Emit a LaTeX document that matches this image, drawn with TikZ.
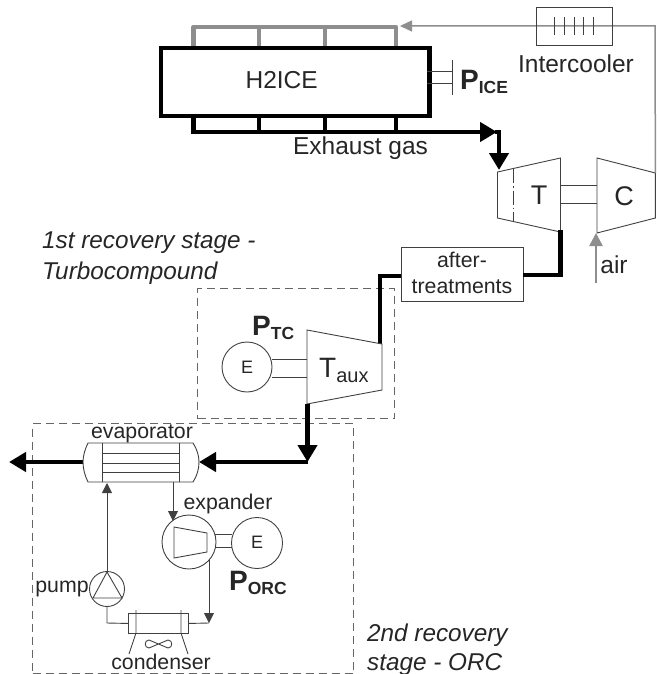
\documentclass[tikz,border=0pt]{standalone}
\usepackage{fontspec}
\setmainfont{Liberation Sans}
\usetikzlibrary{arrows.meta}
\definecolor{ink}{HTML}{262626}
\definecolor{wire}{HTML}{404040}
\definecolor{pipegrey}{HTML}{8E8E8E}
\definecolor{dashgrey}{HTML}{666666}
\newcommand{\sz}[1]{\fontsize{#1}{#1}\selectfont}
\newcommand{\powerlabel}[1]{{\bfseries\sz{28}P\raisebox{-4pt}{\sz{17.5}#1}}}
\tikzset{
  x=1pt,y=-1pt,
  thinline/.style={draw=wire,line width=0.9pt},
  hotpipe/.style={draw=black,line width=4.5pt,line join=miter},
  coldpipe/.style={draw=pipegrey,line width=4.5pt,line join=round},
  airline/.style={draw=pipegrey,line width=1.5pt},
  stagebox/.style={draw=dashgrey,line width=1.1pt,dash pattern=on 8pt off 5pt},
  label/.style={inner sep=0pt,anchor=base,text=ink,font=\sz{24.5}},
  small/.style={label,font=\sz{21.3}},
  stagetext/.style={inner sep=0pt,anchor=base west,text=ink,font=\sz{24.3}\itshape},
  hothead/.style={-{Triangle[length=17pt,width=19pt]}},
  finehead/.style={-{Triangle[length=10pt,width=10pt]}},
  unit/.style={circle,draw=wire,line width=0.9pt,inner sep=0pt},
}
\begin{document}
\begin{tikzpicture}
\useasboundingbox (0,0) rectangle (656,674);
% stage boxes
\node[stagebox,minimum width=197pt,minimum height=130pt,inner sep=0pt,anchor=north west] (stageA) at (197,288) {};
\node[stagebox,minimum width=321pt,minimum height=250pt,inner sep=0pt,anchor=north west] (stageB) at (32,423) {};
% engine
\foreach \n/\x in {1/193.5,2/259,3/325,4/396}{
  \coordinate (ct\n) at (\x,27);
  \coordinate (cb\n) at (\x,46);
  \coordinate (et\n) at (\x,114);
  \coordinate (eb\n) at (\x,132);
}
\draw[coldpipe] (cb1) -- (ct1) -- (ct4) -- (cb4);
\draw[coldpipe] (ct2) -- (cb2);
\draw[coldpipe] (ct3) -- (cb3);
\node[draw=black,line width=4.5pt,minimum width=268.5pt,minimum height=68pt,inner sep=0pt,anchor=north west] (engine) at (158.5,46) {};
\node[label] (h2ice) at (281.7,89) {H2ICE};
\coordinate (bend) at (499,132);
\coordinate (tin) at (499,170);
\draw[hotpipe] (et1) -- (eb1) -- (eb4);
\draw[hotpipe] (et2) -- (eb2);
\draw[hotpipe] (et3) -- (eb3);
\draw[hotpipe] (et4) -- (eb4);
\draw[hotpipe,hothead] (eb4) -- (497,132);
\draw[hotpipe,hothead] (495,132) -- (bend) -- (tin);
\node[label] (exh) at (360.5,154) {Exhaust gas};
% engine shaft
\coordinate (sa) at (427,71);\coordinate (sb) at (452,71);
\coordinate (sc) at (427,83);\coordinate (sd) at (452,83);
\coordinate (se) at (452,60);\coordinate (sf) at (452,95);
\draw[thinline] (sa) -- (sb) (sc) -- (sd) (se) -- (sf);
\node[inner sep=0pt,anchor=base west,text=ink] (pice) at (460,90) {\powerlabel{ICE}};
% turbocharger
\coordinate (t1) at (497.5,172);\coordinate (t2) at (560.5,158);
\coordinate (t3) at (560.5,232);\coordinate (t4) at (497.5,218);
\coordinate (c1) at (597,158);\coordinate (c2) at (655.4,173);
\coordinate (c3) at (655.4,218);\coordinate (c4) at (597,233);
\draw[thinline] (t1) -- (t2) -- (t3) -- (t4) -- cycle;
\draw[thinline] (c1) -- (c2) -- (c3) -- (c4) -- cycle;
\draw[thinline,dash pattern=on 14pt off 3pt on 1.5pt off 3pt] (513.5,169) -- (513.5,222);
\draw[thinline] (t2 |- 0,185) -- (c1 |- 0,185) (t2 |- 0,203) -- (c1 |- 0,203);
\node[label,font=\sz{27}] (tlab) at (539,204) {T};
\node[label,font=\sz{27}] (clab) at (624,205) {C};
% charge air
\coordinate (airtop) at (655,26);
\coordinate (coldin) at (400,26);
\draw[airline,-{Triangle[length=12pt,width=11pt]}] (c2) -- (airtop) -- (coldin);
\node[draw=wire,line width=0.9pt,minimum width=76pt,minimum height=38pt,inner sep=0pt,anchor=north west] (ic) at (536,7) {};
\foreach \x in {554.5,564.5,574,583.5,593}{\draw[thinline] (\x,17) -- (\x,35);}
\node[label] (iclab) at (576,73) {Intercooler};
\coordinate (airin) at (596,283);
\coordinate (airtip) at (596,233);
\draw[pipegrey,line width=2.5pt,-{Triangle[length=13pt,width=13pt]}] (airin) -- (airtip);
\node[label] (airlab) at (614,273) {air};
% after-treatments
\node[draw=wire,line width=0.9pt,minimum width=122pt,minimum height=54pt,inner sep=0pt,anchor=north west] (after) at (401,247) {};
\node[small] (aft1) at (462,267) {after-};
\node[small] (aft2) at (462,293) {treatments};
\coordinate (tout) at (560.5,230);
\coordinate (aftR) at (523,275);
\coordinate (aftL) at (401,276);
\coordinate (auxin) at (380,344);
\draw[hotpipe] (tout) -- (560.5,275) -- (aftR);
\draw[hotpipe] (aftL) -- (380,276) -- (auxin);
% aux turbine
\coordinate (a1) at (307,330);\coordinate (a2) at (382,344);
\coordinate (a3) at (382,390);\coordinate (a4) at (307,404);
\draw[thinline] (a1) -- (a2) -- (a3) -- (a4) -- cycle;
\node[unit,minimum size=50pt] (gen1) at (247,367) {};
\draw[thinline] (272,359) -- (307,359) (272,377) -- (307,377);
\node[label,font=\sz{18}] (gen1t) at (247,373) {E};
\node[inner sep=0pt,anchor=base west,text=ink] (taux) at (319,377) {\sz{28}T\raisebox{-5pt}{\sz{20}aux}};
\node[inner sep=0pt,anchor=base west,text=ink] (ptc) at (252,335) {\powerlabel{TC}};
% exhaust to evaporator
\coordinate (corner) at (308,462);
\coordinate (evapR) at (199,462);
\coordinate (evapL) at (83,462);
\coordinate (outlet) at (9,462);
\draw[hotpipe,hothead] (307.5,404) -- (307.5,462);
\draw[hotpipe,hothead] (corner) -- (evapR);
\draw[hotpipe,hothead] (evapL) -- (outlet);
% evaporator
\draw[thinline] (88,443) -- (193,443) .. controls (197,449) and (199,456) .. (199,462) .. controls (199,469) and (197,476) .. (193,482) -- (88,482) .. controls (85,476) and (83,469) .. (83,462) .. controls (83,456) and (85,449) .. (88,443) -- cycle;
\draw[thinline] (102,443) -- (102,482) (179,443) -- (179,482);
\draw[thinline] (102,453) -- (179,453) (102,463) -- (179,463) (102,472) -- (179,472);
\node[small] (evlab) at (142,438) {evaporator};
% expander
\node[unit,minimum size=54pt] (exp) at (189,542) {};
\node[unit,minimum size=51pt] (gen2) at (257,543) {};
\draw[thinline] (174,527) -- (207,533) -- (207,552) -- (174,558) -- cycle;
\draw[thinline] (215,534) -- (232,534) (215,547) -- (232,547);
\node[label,font=\sz{18}] (gen2t) at (257,548) {E};
\node[small] (explab) at (228,509) {expander};
\node[inner sep=0pt,anchor=base west,text=ink] (porc) at (229,590) {\powerlabel{ORC}};
% ORC loop
\coordinate (evout) at (173,482);
\coordinate (expin) at (173,521);
\coordinate (expout) at (209,560);
\coordinate (loop) at (209,623);
\coordinate (pumpb) at (107,623);
\draw[thinline,finehead] (evout) -- (expin);
\draw[thinline,finehead] (expout) -- (loop);
\node[draw=wire,line width=0.9pt,minimum width=60pt,minimum height=20pt,inner sep=0pt,anchor=north west] (cond) at (128,613) {};
\draw[thinline] (loop) -- (cond.east);
\node[unit,minimum size=35pt] (pump) at (107,589) {};
\draw[thinline] (cond.west) -- (pumpb) -- (pump.south);
\draw[thinline] (107,572) -- (122,598) -- (93,598) -- cycle;
\draw[thinline,finehead] (pump.north) -- (107,483);
\node[small] (pumplab) at (62,592) {pump};
% condenser details
\draw[thinline] (136,610) -- (136,633) -- (129,654);
\draw[thinline] (181,610) -- (181,633) -- (188,654);
\draw[thinline] (158.5,644) -- (149,640) .. controls (144,640) and (144,648) .. (149,648) -- (158.5,644) -- (168,640) .. controls (173,640) and (173,648) .. (168,648) -- cycle;
\node[small] (condlab) at (161,669) {condenser};
% stage captions
\node[stagetext] (s1a) at (42,248) {1st recovery stage -};
\node[stagetext] (s1b) at (42,279) {Turbocompound};
\node[stagetext] (s2a) at (367,641) {2nd recovery};
\node[stagetext] (s2b) at (367,670) {stage - ORC};
\end{tikzpicture}
\end{document}
